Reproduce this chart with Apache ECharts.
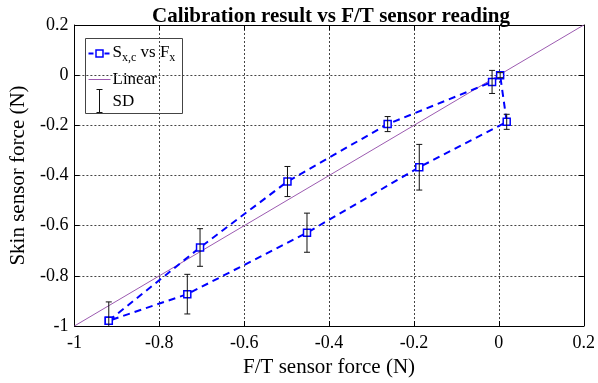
<!DOCTYPE html>
<html>
<head>
<meta charset="utf-8">
<script src="https://cdn.jsdelivr.net/npm/echarts@6/dist/echarts.min.js"></script>
<style>html,body{margin:0;padding:0;background:#fff}#c{width:598px;height:383px}</style>
</head>
<body>
<div id="c"></div>
<script>
// ---- data ----
const ftForce   = [-0.919, -0.704, -0.498, -0.262, -0.016, 0.003, 0.0185, -0.1875, -0.452, -0.734];
const skinForce = [-0.979, -0.687, -0.424, -0.195, -0.027, 0.000, -0.186, -0.367, -0.628, -0.873];
const skinSD    = [0.075, 0.075, 0.060, 0.030, 0.046, 0.010, 0.030, 0.091, 0.078, 0.079];
const linearX   = [-1, 0.2];
const linearY   = [-1, 0.2];
const axisMin = -1, axisMax = 0.2, axisStep = 0.2;

const FONT = 'Liberation Serif';
const loop = ftForce.map((x, i) => [x, skinForce[i]]);
loop.push([ftForce[0], skinForce[0]]);
const errData = ftForce.map((x, i) => [x, skinForce[i], skinSD[i]]);
const linData = linearX.map((x, i) => [x, linearY[i]]);
const fmt = v => String(Math.round(v * 10) / 10);

const chart = echarts.init(document.getElementById('c'), null, {renderer: 'canvas'});
const gridLine = {show: true, lineStyle: {color: '#444', type: [2, 2], width: 1}};
const frame = {show: true, onZero: false, lineStyle: {color: '#000', width: 1}};
const tick = {show: true, inside: true, length: 5, lineStyle: {color: '#000'}};

chart.setOption({
  animation: false,
  backgroundColor: '#fff',
  title: {
    text: 'Calibration result vs F/T sensor reading',
    left: 326, top: 1, textAlign: 'center',
    textStyle: {fontFamily: FONT, fontWeight: 'bold', fontSize: 21, color: '#000'}
  },
  grid: {left: 68, right: 11, top: 25, bottom: 57},
  xAxis: [{
    type: 'value', min: axisMin, max: axisMax, interval: axisStep,
    name: 'F/T sensor force (N)', nameLocation: 'middle', nameGap: 29,
    nameTextStyle: {fontFamily: FONT, fontSize: 21, color: '#000'},
    axisLine: frame, axisTick: tick, splitLine: gridLine,
    axisLabel: {formatter: fmt, fontFamily: FONT, fontSize: 18, color: '#000', margin: 8}
  }, {
    type: 'value', position: 'top', min: axisMin, max: axisMax, interval: axisStep,
    axisLine: frame, axisTick: tick, splitLine: {show: false}, axisLabel: {show: false}
  }],
  yAxis: [{
    type: 'value', min: axisMin, max: axisMax, interval: axisStep,
    name: 'Skin sensor force (N)', nameLocation: 'middle', nameGap: 45,
    nameTextStyle: {fontFamily: FONT, fontSize: 21, color: '#000'},
    axisLine: frame, axisTick: tick, splitLine: gridLine,
    axisLabel: {formatter: fmt, fontFamily: FONT, fontSize: 18, color: '#000', margin: 6}
  }, {
    type: 'value', position: 'right', min: axisMin, max: axisMax, interval: axisStep,
    axisLine: frame, axisTick: tick, splitLine: {show: false}, axisLabel: {show: false}
  }],
  series: [{
    name: 'Linear', type: 'line', data: linData, symbol: 'none',
    lineStyle: {color: '#9c5bb0', width: 1}, z: 2
  }, {
    name: 'Sxc vs Fx', type: 'line', data: loop,
    symbol: 'rect', symbolSize: 7,
    lineStyle: {color: '#0000ff', width: 2, type: [7, 5]},
    itemStyle: {color: '#fff', borderColor: '#0000ff', borderWidth: 1.5},
    z: 3
  }, {
    name: 'SD', type: 'custom', data: errData, clip: true, z: 4,
    renderItem: (params, api) => {
      const x = api.value(0), y = api.value(1), s = api.value(2);
      const t = api.coord([x, y + s]), b = api.coord([x, y - s]);
      const st = {stroke: '#111', lineWidth: 1};
      const hw = 3;
      return {type: 'group', children: [
        {type: 'line', shape: {x1: t[0], y1: t[1], x2: b[0], y2: b[1]}, style: st},
        {type: 'line', shape: {x1: t[0] - hw, y1: t[1], x2: t[0] + hw, y2: t[1]}, style: st},
        {type: 'line', shape: {x1: b[0] - hw, y1: b[1], x2: b[0] + hw, y2: b[1]}, style: st}
      ]};
    }
  }],
  graphic: [{
    type: 'group', left: 85, top: 38, z: 100,
    children: [
      {type: 'rect', shape: {x: 0, y: 0, width: 97, height: 75}, style: {fill: '#fff', stroke: '#444', lineWidth: 1}},
      {type: 'line', shape: {x1: 3, y1: 15, x2: 25, y2: 15}, style: {stroke: '#0000ff', lineWidth: 2, lineDash: [5, 3]}},
      {type: 'rect', shape: {x: 10.5, y: 11.5, width: 7, height: 7}, style: {fill: '#fff', stroke: '#0000ff', lineWidth: 1.5}},
      {type: 'text', x: 27, y: 14, style: {
        text: '{a|S}{b|x,c}{a| vs F}{b|x}', verticalAlign: 'middle',
        rich: {
          a: {fontFamily: FONT, fontSize: 17, lineHeight: 22, fill: '#000'},
          b: {fontFamily: FONT, fontSize: 12, lineHeight: 2, verticalAlign: 'bottom', fill: '#000'}
        }
      }},
      {type: 'line', shape: {x1: 3, y1: 41, x2: 25, y2: 41}, style: {stroke: '#9c5bb0', lineWidth: 1}},
      {type: 'text', x: 27, y: 41, style: {text: 'Linear', verticalAlign: 'middle', fontFamily: FONT, fontSize: 17, fill: '#000'}},
      {type: 'line', shape: {x1: 14, y1: 51, x2: 14, y2: 74}, style: {stroke: '#111', lineWidth: 1}},
      {type: 'line', shape: {x1: 11, y1: 51, x2: 17, y2: 51}, style: {stroke: '#111', lineWidth: 1}},
      {type: 'line', shape: {x1: 11, y1: 74, x2: 17, y2: 74}, style: {stroke: '#111', lineWidth: 1}},
      {type: 'text', x: 27, y: 63, style: {text: 'SD', verticalAlign: 'middle', fontFamily: FONT, fontSize: 17, fill: '#000'}}
    ]
  }]
});
</script>
</body>
</html>
